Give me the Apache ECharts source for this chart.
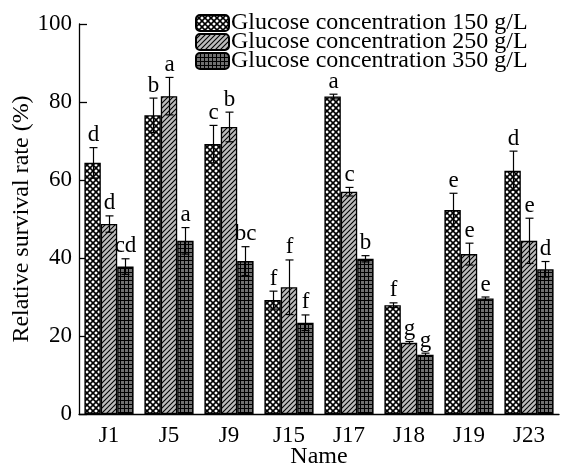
<!DOCTYPE html>
<html>
<head>
<meta charset="utf-8">
<script src="https://cdn.jsdelivr.net/npm/echarts@6/dist/echarts.min.js"></script>
<style>
html,body{margin:0;padding:0;background:#fff;overflow:hidden;}
#chart{width:561px;height:468px;}
</style>
</head>
<body>
<div id="chart"></div>
<script>
var categories = ['J1','J5','J9','J15','J17','J18','J19','J23'];
var seriesNames = ['Glucose concentration 150 g/L','Glucose concentration 250 g/L','Glucose concentration 350 g/L'];
var values150 = [64.4, 76.6, 69.2, 29.2, 81.4, 27.9, 52.3, 62.4];
var values250 = [48.7, 81.5, 73.6, 32.5, 57.0, 18.3, 41.0, 44.4];
var values350 = [37.8, 44.4, 39.2, 23.4, 39.8, 15.2, 29.6, 37.1];
var errors150 = [3.9, 4.4, 4.8, 2.3, 0.6, 0.6, 4.3, 5.0];
var errors250 = [2.1, 4.8, 3.8, 7.0, 1.1, 0.3, 2.8, 5.8];
var errors350 = [2.0, 3.4, 3.7, 2.0, 0.8, 0.4, 0.4, 2.0];
var letters150 = ['d','b','c','f','a','f','e','d'];
var letters250 = ['d','a','b','f','c','g','e','e'];
var letters350 = ['cd','a','bc','f','b','g','e','d'];
var yTicks = [0, 20, 40, 60, 80, 100];

var FONT = '"Liberation Serif", "Times New Roman", serif';

function makePattern(kind) {
  var c = document.createElement('canvas');
  var ctx;
  if (kind === 'cross') {
    c.width = 6; c.height = 6;
    ctx = c.getContext('2d');
    ctx.fillStyle = '#ffffff'; ctx.fillRect(0,0,6,6);
    ctx.strokeStyle = '#000'; ctx.lineWidth = 1.6;
    ctx.beginPath();
    ctx.moveTo(0,0); ctx.lineTo(6,6);
    ctx.moveTo(6,0); ctx.lineTo(0,6);
    ctx.stroke();
  } else if (kind === 'stripe') {
    c.width = 5; c.height = 5;
    ctx = c.getContext('2d');
    ctx.fillStyle = '#bdbdbd'; ctx.fillRect(0,0,5,5);
    ctx.strokeStyle = '#000'; ctx.lineWidth = 1.1;
    ctx.beginPath();
    ctx.moveTo(-1,6); ctx.lineTo(6,-1);
    ctx.moveTo(-1,1); ctx.lineTo(1,-1);
    ctx.moveTo(4,6); ctx.lineTo(6,4);
    ctx.stroke();
  } else {
    c.width = 4; c.height = 4;
    ctx = c.getContext('2d');
    ctx.fillStyle = '#707070'; ctx.fillRect(0,0,4,4);
    ctx.fillStyle = '#000';
    ctx.fillRect(0,0,4,1);
    ctx.fillRect(0,0,1,4);
  }
  return {image: c, repeat: 'repeat'};
}

var patterns = [makePattern('cross'), makePattern('stripe'), makePattern('grid')];
var allValues = [values150, values250, values350];
var allErrors = [errors150, errors250, errors350];
var allLetters = [letters150, letters250, letters350];
var CATGAP = 0.18;

var series = [];
for (var s = 0; s < 3; s++) {
  series.push({
    name: seriesNames[s],
    type: 'bar',
    data: allValues[s],
    barGap: '0%',
    barCategoryGap: (CATGAP*100) + '%',
    itemStyle: {color: patterns[s], borderColor: '#000', borderWidth: 1.3},
    emphasis: {disabled: true},
    silent: true
  });
}
for (var s2 = 0; s2 < 3; s2++) {
  (function(si){
    var d = [];
    for (var i = 0; i < categories.length; i++) d.push([i, allValues[si][i], allErrors[si][i]]);
    series.push({
      name: 'err' + si,
      type: 'custom',
      data: d,
      encode: {x: 0, y: 1},
      z: 5,
      silent: true,
      renderItem: function(params, api) {
        var ci = api.value(0), m = api.value(1), e = api.value(2);
        var band = api.size([1, 0])[0];
        var bw = band * (1 - CATGAP) / 3;
        var center = api.coord([ci, m]);
        var x = Math.round(center[0] + (si - 1) * bw) + 0.5;
        var top = api.coord([ci, m + e])[1];
        var bot = api.coord([ci, m - e])[1];
        var cap = 4;
        return {
          type: 'group',
          children: [
            {type: 'line', shape: {x1: x, y1: top, x2: x, y2: bot}, style: {stroke: '#000', lineWidth: 1.2}},
            {type: 'line', shape: {x1: x - cap, y1: top, x2: x + cap, y2: top}, style: {stroke: '#000', lineWidth: 1.2}},
            {type: 'line', shape: {x1: x - cap, y1: bot, x2: x + cap, y2: bot}, style: {stroke: '#000', lineWidth: 1.2}},
            {type: 'text', style: {text: allLetters[si][ci], x: x, y: top - 1, align: 'center', verticalAlign: 'bottom', font: '23px ' + FONT, fill: '#000'}}
          ]
        };
      }
    });
  })(s2);
}

var legends = [];
for (var k = 0; k < 3; k++) {
  legends.push({
    data: [seriesNames[k]],
    orient: 'vertical',
    left: 195,
    top: 11 + k * 19,
    padding: 0,
    itemWidth: 33,
    itemHeight: 16,
    itemGap: 0,
    selectedMode: false,
    textStyle: {fontFamily: FONT, fontSize: 24, color: '#000', padding: [0,0,0,-3]}
  });
}

var chart = echarts.init(document.getElementById('chart'), null, {renderer: 'canvas'});
chart.setOption({
  animation: false,
  backgroundColor: '#fff',
  grid: {left: 79, top: 24, right: 2, bottom: 54, containLabel: false, outerBoundsMode: 'none'},
  legend: legends,
  xAxis: {
    type: 'category',
    data: categories,
    name: 'Name',
    nameLocation: 'middle',
    nameGap: 31,
    nameMoveOverlap: false,
    nameTextStyle: {fontFamily: FONT, fontSize: 24, color: '#000'},
    axisLine: {lineStyle: {color: '#000', width: 1.3}},
    axisTick: {show: false},
    axisLabel: {fontFamily: FONT, fontSize: 23, color: '#000', margin: 10}
  },
  yAxis: {
    type: 'value',
    min: yTicks[0],
    max: yTicks[yTicks.length - 1],
    interval: yTicks[1] - yTicks[0],
    name: 'Relative survival rate (%)',
    nameLocation: 'middle',
    nameGap: 45,
    nameMoveOverlap: false,
    nameTextStyle: {fontFamily: FONT, fontSize: 24, color: '#000'},
    axisLine: {show: true, lineStyle: {color: '#000', width: 1.3}},
    axisTick: {show: true, inside: true, length: 8, lineStyle: {color: '#000', width: 1.3}},
    axisLabel: {fontFamily: FONT, fontSize: 23, color: '#000', margin: 7},
    splitLine: {show: false}
  },
  series: series
});
</script>
</body>
</html>
